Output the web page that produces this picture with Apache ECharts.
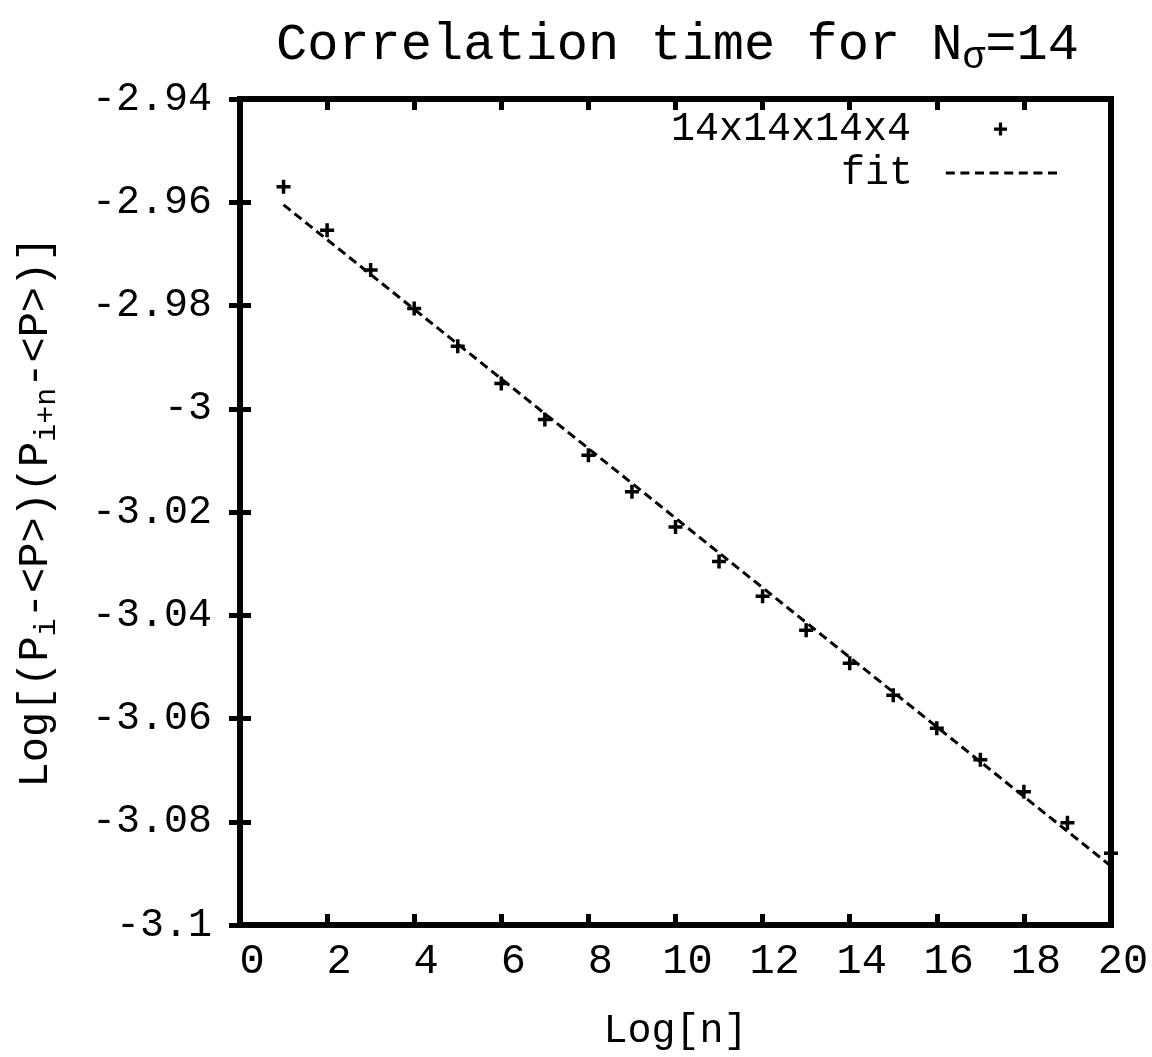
<!DOCTYPE html>
<html>
<head>
<meta charset="utf-8">
<script src="https://cdn.jsdelivr.net/npm/echarts@6/dist/echarts.min.js"></script>
<style>html,body{margin:0;padding:0;background:#fff}#c{width:1152px;height:1057px}</style>
</head>
<body>
<div id="c"></div>
<script>
// Data
const logN = [1,2,3,4,5,6,7,8,9,10,11,12,13,14,15,16,17,18,19,20];
const corr = [-2.9570,-2.9654,-2.9731,-2.9806,-2.9879,-2.9951,-3.0021,-3.0090,-3.0161,-3.0229,
              -3.0296,-3.0363,-3.0429,-3.0493,-3.0555,-3.0619,-3.0680,-3.0742,-3.0802,-3.0861];
const fitX = [1, 20];
const fitY = [-2.9605, -3.0886];
const seriesNames = ['14x14x14x4', 'fit'];
const xTicks = [0,2,4,6,8,10,12,14,16,18,20];
const yTicks = [-3.1,-3.08,-3.06,-3.04,-3.02,-3,-2.98,-2.96,-2.94];

const FONT = '"Liberation Mono", "DejaVu Sans Mono", monospace';
const PLUS = 'path://M-1,-0.25H-0.25V-1H0.25V-0.25H1V0.25H0.25V1H-0.25V0.25H-1Z';

// dashed-line legend icon (8 dashes)
let dashPath = 'path://';
for (let k = 0; k < 8; k++) {
  const a = k * 14.6, b = a + 9;
  dashPath += 'M' + a + ',0H' + b + 'V3H' + a + 'Z';
}

const chart = echarts.init(document.getElementById('c'), null, {renderer: 'canvas'});
const axisTick = {show: true, inside: true, length: 11, lineStyle: {color: '#000', width: 5}};
chart.setOption({
  animation: false,
  backgroundColor: '#fff',
  title: {
    text: 'Correlation time for N{s|σ}=14',
    left: 271, top: 8,
    textStyle: {
      fontFamily: FONT, fontSize: 52, fontWeight: 'normal', color: '#000',
      rich: {s: {fontFamily: FONT, fontSize: 38, color: '#000', padding: [26, 0, 0, 0]}}
    }
  },
  grid: {left: 240, right: 41, top: 99, bottom: 132, show: true, borderColor: '#000', borderWidth: 6, backgroundColor: 'transparent'},
  legend: [
    {
      data: [{name: seriesNames[0], icon: PLUS}],
      orient: 'vertical', align: 'right', right: 145, top: 109, padding: 0,
      itemWidth: 13, itemHeight: 13, itemGap: 0,
      itemStyle: {color: '#000', opacity: 1},
      textStyle: {fontFamily: FONT, fontSize: 40, color: '#000', padding: [0, 78, 0, 0]},
      selectedMode: false
    },
    {
      data: [{name: seriesNames[1], icon: dashPath}],
      orient: 'vertical', align: 'right', right: 95, top: 153, padding: 0,
      itemWidth: 115, itemHeight: 3, itemGap: 0,
      itemStyle: {color: '#000', opacity: 1},
      textStyle: {fontFamily: FONT, fontSize: 40, color: '#000', padding: [0, 26, 0, 0]},
      selectedMode: false
    }
  ],
  xAxis: [
    {
      type: 'value', min: 0, max: 20, interval: 2,
      name: 'Log[n]', nameLocation: 'middle', nameGap: 86,
      nameTextStyle: {fontFamily: FONT, fontSize: 40, color: '#000'},
      axisLine: {show: false}, splitLine: {show: false}, axisTick: axisTick,
      axisLabel: {fontFamily: FONT, fontSize: 42, color: '#000', margin: 16, padding: [0, 0, 0, 24]}
    },
    {
      type: 'value', min: 0, max: 20, interval: 2, position: 'top',
      axisLine: {show: false}, splitLine: {show: false}, axisTick: axisTick, axisLabel: {show: false}
    }
  ],
  yAxis: [
    {
      type: 'value', min: -3.1, max: -2.94, interval: 0.02,
      name: 'Log[(P{s|i}-<P>)(P{s|i+n}-<P>)]', nameLocation: 'middle', nameGap: 178,
      nameTextStyle: {
        fontFamily: FONT, fontSize: 42, color: '#000',
        rich: {s: {fontFamily: FONT, fontSize: 30, color: '#000', padding: [22, 0, 0, 0]}}
      },
      axisLine: {show: false}, splitLine: {show: false}, axisTick: axisTick,
      axisLabel: {
        fontFamily: FONT, fontSize: 40, color: '#000', margin: 28,
        formatter: v => String(Math.round(v * 100) / 100)
      }
    },
    {
      type: 'value', min: -3.1, max: -2.94, interval: 0.02, position: 'right',
      axisLine: {show: false}, splitLine: {show: false}, axisTick: axisTick, axisLabel: {show: false}
    }
  ],
  series: [
    {
      name: seriesNames[0], type: 'scatter', symbol: PLUS, symbolSize: 14,
      itemStyle: {color: '#000', opacity: 1}, z: 5,
      data: logN.map((x, i) => [x, corr[i]])
    },
    {
      name: seriesNames[1], type: 'line', symbol: 'none', showSymbol: false,
      lineStyle: {color: '#000', width: 3, type: [9, 5]}, itemStyle: {color: '#000'},
      data: fitX.map((x, i) => [x, fitY[i]])
    }
  ]
});
</script>
</body>
</html>
